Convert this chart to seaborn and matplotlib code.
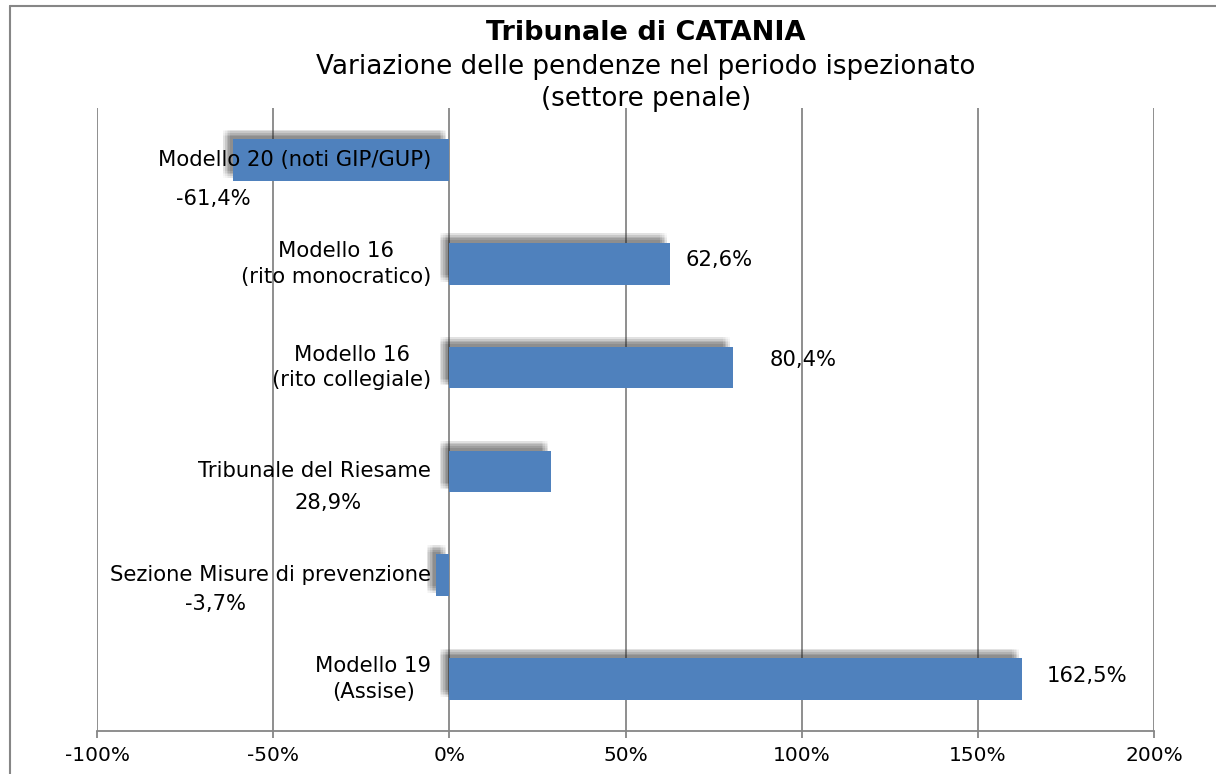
import matplotlib
matplotlib.use("Agg")
import matplotlib.pyplot as plt
import matplotlib.patheffects as pe
from matplotlib.lines import Line2D
import seaborn as sns

# data
categories = [
    "Modello 20 (noti GIP/GUP)",
    "Modello 16\n(rito monocratico)",
    "Modello 16\n(rito collegiale)",
    "Tribunale del Riesame",
    "Sezione Misure di prevenzione",
    "Modello 19\n(Assise)",
]
values = [-61.4, 62.6, 80.4, 28.9, -3.7, 162.5]
value_labels = ["-61,4%", "62,6%", "80,4%", "28,9%", "-3,7%", "162,5%"]
x_ticks = [-100, -50, 0, 50, 100, 150, 200]
x_tick_labels = ["-100%", "-50%", "0%", "50%", "100%", "150%", "200%"]

# where Excel left the data labels (offsets from bar end / row centre)
label_dx = [-5.6, 14.0, 20.1, -63.2, -62.7, 18.5]
label_dy = [0.38, -0.04, -0.07, 0.30, 0.28, -0.03]

bar_color = "#4F81BD"
grid_color = "#868686"

sns.set_style("white")
plt.rcParams["font.family"] = ["DejaVu Sans"]
plt.rcParams["text.color"] = "black"
plt.rcParams["xtick.color"] = "black"
plt.rcParams["ytick.color"] = "black"

fig = plt.figure(figsize=(12.16, 7.74), dpi=100)
ax = fig.add_axes([97 / 1216, 1 - 731 / 774, (1154 - 97) / 1216, (731 - 108) / 774])

sns.barplot(x=values, y=categories, orient="h", color=bar_color,
            saturation=1, width=0.4, linewidth=0, ax=ax, zorder=3)

# soft shadow up-left of each bar
shadow = []
for ox in (-2.4, -1.2, 0, 1.2, 2.4):
    for oy in (-2.4, -1.2, 0, 1.2, 2.4):
        shadow.append(pe.SimplePatchShadow(offset=(-4.5 + ox, 4.5 + oy),
                                           shadow_rgbFace="#303030", alpha=0.026))
shadow.append(pe.Normal())
for bar in ax.patches:
    bar.set_path_effects(shadow)

ax.set_xlim(-100, 200)
ax.set_xticks(x_ticks)
ax.set_xticklabels(x_tick_labels, fontsize=14.5)
ax.set_xlabel("")
ax.set_ylabel("")

# vertical gridlines
ax.grid(axis="x", color=grid_color, linewidth=1.3, zorder=0)
ax.grid(axis="y", visible=False)
ax.set_axisbelow(True)

for side in ("top", "right", "left"):
    ax.spines[side].set_visible(False)
ax.spines["bottom"].set_color(grid_color)
ax.spines["bottom"].set_linewidth(1.3)

ax.tick_params(axis="x", length=5, width=1.3, color=grid_color, pad=6, bottom=True)
ax.tick_params(axis="y", length=0, left=False)
ax.set_yticklabels([])

# category labels sit next to the zero line, on top of the bars
for i, cat in enumerate(categories):
    ax.annotate(cat, xy=(0, i), xytext=(-13, 0), textcoords="offset points",
                ha="right", va="center", multialignment="center",
                fontsize=15.2, linespacing=1.35, zorder=6)

# data labels
for i, v in enumerate(values):
    ax.text(v + label_dx[i], i + label_dy[i], value_labels[i],
            ha="center", va="center", fontsize=15.2, zorder=5)

# titles
fig.text(0.531, 1 - 33 / 774, "Tribunale di CATANIA", ha="center", va="center",
         fontsize=19.5, fontweight="bold")
fig.text(0.531, 1 - 83 / 774, "Variazione delle pendenze nel periodo ispezionato\n(settore penale)",
         ha="center", va="center", fontsize=18.8, linespacing=1.3)

# chart area frame (left and top edges visible)
fig.add_artist(Line2D([10 / 1216, 10 / 1216], [0, 1 - 6 / 774], color=grid_color, linewidth=1.5))
fig.add_artist(Line2D([10 / 1216, 1], [1 - 6 / 774, 1 - 6 / 774], color=grid_color, linewidth=1.5))

fig.savefig("out.png", dpi=100)
